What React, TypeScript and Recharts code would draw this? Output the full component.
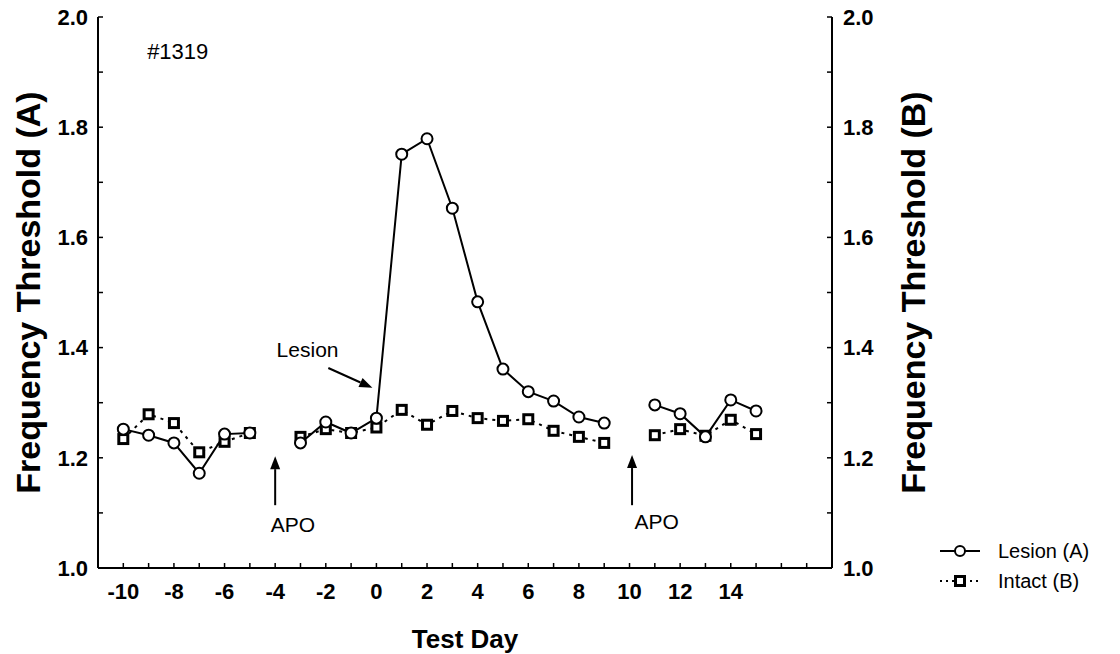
import {
  Legend,
  Line,
  LineChart,
  ReferenceDot,
  ReferenceLine,
  XAxis,
  YAxis,
} from "recharts";

// Test days (null values break the line on APO days)
const days = [-10, -9, -8, -7, -6, -5, -4, -3, -2, -1, 0, 1, 2, 3, 4, 5, 6, 7, 8, 9, 10, 11, 12, 13, 14, 15];
const lesionA = [
  1.252, 1.241, 1.227, 1.172, 1.243, 1.245, null, 1.227, 1.265, 1.245, 1.272, 1.751, 1.779, 1.653, 1.483,
  1.361, 1.32, 1.303, 1.274, 1.263, null, 1.296, 1.28, 1.238, 1.305, 1.285,
];
const intactB = [
  1.234, 1.279, 1.263, 1.21, 1.229, 1.245, null, 1.238, 1.252, 1.245, 1.255, 1.287, 1.26, 1.285, 1.272,
  1.267, 1.27, 1.249, 1.238, 1.227, null, 1.241, 1.252, 1.24, 1.269, 1.243,
];

const xTicks = [-10, -9, -8, -7, -6, -5, -4, -3, -2, -1, 0, 1, 2, 3, 4, 5, 6, 7, 8, 9, 10, 11, 12, 13, 14, 15, 16, 17];
const xLabels = [-10, -8, -6, -4, -2, 0, 2, 4, 6, 8, 10, 12, 14];
const yTicks = [1.0, 1.1, 1.2, 1.3, 1.4, 1.5, 1.6, 1.7, 1.8, 1.9, 2.0];
const yLabels = [1.0, 1.2, 1.4, 1.6, 1.8, 2.0];

const FONT = '"Liberation Sans", Arial, Helvetica, sans-serif';
const INK = "#000";
const TICK_FONT = 22;

const rows = days.map((d, i) => ({ day: d, lesion: lesionA[i], intact: intactB[i] }));

const hasLabel = (list: number[], v: number) => list.some((t) => Math.abs(t - v) < 1e-6);

function BottomTick({ x = 0, y = 0, payload }: any) {
  const v = payload?.value as number;
  return (
    <g>
      <line x1={x} y1={y} x2={x} y2={y - 5} stroke={INK} strokeWidth={1.5} />
      {hasLabel(xLabels, v) && (
        <text x={x} y={y + 23} dy="0.35em" textAnchor="middle" fontFamily={FONT} fontSize={TICK_FONT} fontWeight={700} fill={INK}>
          {v}
        </text>
      )}
    </g>
  );
}

function TopTick({ x = 0, y = 0 }: any) {
  return <line x1={x} y1={y} x2={x} y2={y + 5} stroke={INK} strokeWidth={1.5} />;
}

function LeftTick({ x = 0, y = 0, payload }: any) {
  const v = payload?.value as number;
  return (
    <g>
      <line x1={x} y1={y} x2={x + 5} y2={y} stroke={INK} strokeWidth={1.5} />
      {hasLabel(yLabels, v) && (
        <text x={x - 10} y={y} dy="0.35em" textAnchor="end" fontFamily={FONT} fontSize={TICK_FONT} fontWeight={700} fill={INK}>
          {v.toFixed(1)}
        </text>
      )}
    </g>
  );
}

function RightTick({ x = 0, y = 0, payload }: any) {
  const v = payload?.value as number;
  return (
    <g>
      <line x1={x} y1={y} x2={x - 5} y2={y} stroke={INK} strokeWidth={1.5} />
      {hasLabel(yLabels, v) && (
        <text x={x + 11} y={y} dy="0.35em" textAnchor="start" fontFamily={FONT} fontSize={TICK_FONT} fontWeight={700} fill={INK}>
          {v.toFixed(1)}
        </text>
      )}
    </g>
  );
}

/** Rotated axis title; dx = distance of its centre from the axis box's left edge. */
function VerticalTitle({ viewBox, text, dx }: any) {
  const { x = 0, y = 0, height = 0 } = viewBox ?? {};
  const cx = x + dx;
  const cy = y + height / 2;
  return (
    <text
      x={cx}
      y={cy}
      transform={`rotate(-90 ${cx} ${cy})`}
      textAnchor="middle"
      dominantBaseline="central"
      fontFamily={FONT}
      fontSize={34}
      fontWeight={700}
      fill={INK}
    >
      {text}
    </text>
  );
}

function OpenCircle({ cx, cy }: any) {
  if (cx == null || cy == null) return null;
  return <circle cx={cx} cy={cy} r={5.5} fill="#fff" stroke={INK} strokeWidth={2} />;
}

function OpenSquare({ cx, cy }: any) {
  if (cx == null || cy == null) return null;
  return <rect x={cx - 4.5} y={cy - 4.5} width={9} height={9} fill="#fff" stroke={INK} strokeWidth={3} />;
}

function ArrowShape({ x1, y1, x2, y2 }: any) {
  if ([x1, y1, x2, y2].some((v) => v == null)) return null;
  const ang = Math.atan2(y2 - y1, x2 - x1);
  const L = 13;
  const W = 5;
  const bx = x2 - L * Math.cos(ang);
  const by = y2 - L * Math.sin(ang);
  const sx = W * Math.sin(ang);
  const sy = W * Math.cos(ang);
  return (
    <g>
      <line x1={x1} y1={y1} x2={bx} y2={by} stroke={INK} strokeWidth={2} />
      <polygon points={`${x2},${y2} ${bx + sx},${by - sy} ${bx - sx},${by + sy}`} fill={INK} />
    </g>
  );
}

function LegendBox() {
  return (
    <svg width={180} height={56} style={{ display: "block" }}>
      <line x1={2} y1={12} x2={42} y2={12} stroke={INK} strokeWidth={2} />
      <circle cx={22} cy={12} r={5} fill="#fff" stroke={INK} strokeWidth={2} />
      <text x={60} y={12} dy="0.35em" fontFamily={FONT} fontSize={20} fill={INK}>
        Lesion (A)
      </text>
      <line x1={2} y1={42} x2={42} y2={42} stroke={INK} strokeWidth={2} strokeDasharray="2 4" />
      <rect x={17.5} y={37.5} width={9} height={9} fill="#fff" stroke={INK} strokeWidth={3} />
      <text x={60} y={42} dy="0.35em" fontFamily={FONT} fontSize={20} fill={INK}>
        Intact (B)
      </text>
    </svg>
  );
}

const textLabel = (value: string, size = 21) => ({
  value,
  position: "center" as const,
  fill: INK,
  fontSize: size,
  fontFamily: FONT,
});

export default function App() {
  return (
    <div style={{ position: "absolute", left: 0, top: 0, width: 1120, height: 654, background: "#fff" }}>
      <LineChart width={1120} height={654} data={rows} margin={{ top: 17, right: 188, bottom: 6, left: 10 }}>
        <XAxis
          xAxisId="x"
          dataKey="day"
          type="number"
          domain={[-11, 18]}
          ticks={xTicks}
          interval={0}
          tickSize={0}
          tickMargin={0}
          tick={<BottomTick />}
          tickLine={false}
          axisLine={{ stroke: INK, strokeWidth: 2 }}
          height={80}
          label={{ value: "Test Day", position: "insideBottom", offset: 0, fontSize: 26, fontWeight: 700, fill: INK, fontFamily: FONT }}
        />
        <XAxis
          xAxisId="top"
          orientation="top"
          type="number"
          domain={[-11, 18]}
          ticks={xTicks}
          interval={0}
          tickSize={0}
          tickMargin={0}
          tick={<TopTick />}
          tickLine={false}
          axisLine={{ stroke: INK, strokeWidth: 2 }}
          height={0}
        />
        <YAxis
          yAxisId="A"
          type="number"
          domain={[1, 2]}
          ticks={yTicks}
          interval={0}
          tickSize={0}
          tickMargin={0}
          tick={<LeftTick />}
          tickLine={false}
          axisLine={{ stroke: INK, strokeWidth: 2 }}
          width={88}
          label={<VerticalTitle text="Frequency Threshold (A)" dx={18} />}
        />
        <YAxis
          yAxisId="B"
          orientation="right"
          type="number"
          domain={[1, 2]}
          ticks={yTicks}
          interval={0}
          tickSize={0}
          tickMargin={0}
          tick={<RightTick />}
          tickLine={false}
          axisLine={{ stroke: INK, strokeWidth: 2 }}
          width={100}
          label={<VerticalTitle text="Frequency Threshold (B)" dx={81} />}
        />

        <Line
          xAxisId="x"
          yAxisId="B"
          dataKey="intact"
          stroke={INK}
          strokeWidth={2}
          strokeDasharray="3 5"
          dot={<OpenSquare />}
          activeDot={false}
          connectNulls={false}
          isAnimationActive={false}
        />
        <Line
          xAxisId="x"
          yAxisId="A"
          dataKey="lesion"
          stroke={INK}
          strokeWidth={2}
          dot={<OpenCircle />}
          activeDot={false}
          connectNulls={false}
          isAnimationActive={false}
        />

        {/* annotations */}
        <ReferenceDot xAxisId="x" yAxisId="A" x={-7.85} y={1.938} r={0} stroke="none" label={textLabel("#1319", 22)} />
        <ReferenceDot xAxisId="x" yAxisId="A" x={-2.72} y={1.396} r={0} stroke="none" label={textLabel("Lesion")} />
        <ReferenceLine
          xAxisId="x"
          yAxisId="A"
          segment={[{ x: -1.9, y: 1.363 }, { x: -0.16, y: 1.327 }]}
          shape={<ArrowShape />}
        />
        <ReferenceLine
          xAxisId="x"
          yAxisId="A"
          segment={[{ x: -4, y: 1.114 }, { x: -4, y: 1.203 }]}
          shape={<ArrowShape />}
        />
        <ReferenceLine
          xAxisId="x"
          yAxisId="A"
          segment={[{ x: 10.1, y: 1.114 }, { x: 10.1, y: 1.205 }]}
          shape={<ArrowShape />}
        />
        <ReferenceDot xAxisId="x" yAxisId="A" x={-3.3} y={1.078} r={0} stroke="none" label={textLabel("APO")} />
        <ReferenceDot xAxisId="x" yAxisId="A" x={11.07} y={1.085} r={0} stroke="none" label={textLabel("APO")} />

        <Legend
          layout="horizontal"
          verticalAlign="middle"
          align="center"
          wrapperStyle={{ position: "absolute", left: 938, top: 539, width: 180, height: 56 }}
          content={() => <LegendBox />}
        />
      </LineChart>
    </div>
  );
}
